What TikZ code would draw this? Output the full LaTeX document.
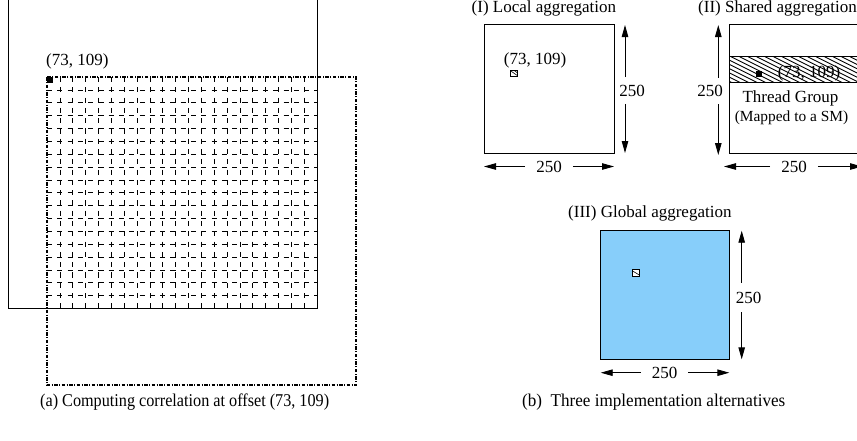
\documentclass[tikz,border=0pt]{standalone}
\usepackage{fontspec}
\setmainfont{Liberation Serif}
\usepackage{graphicx}
\usetikzlibrary{arrows.meta}

\definecolor{skyfill}{RGB}{135,206,250}

\begin{document}
\begin{tikzpicture}[x=1pt,y=-1pt,
  every node/.style={font=\fontsize{17}{20}\selectfont, inner sep=0pt},
  frame/.style={draw=black, line width=0.9pt},
  dimarrow/.style={line width=0.9pt, -{Triangle[length=12pt,width=6.5pt]}},
  dimlabel/.style={inner xsep=11pt, inner ysep=7.5pt},
  gridline/.style={line width=0.7pt, dash pattern=on 5.143pt off 5.143pt},
  dashdot/.style={line width=1.1pt, dash pattern=on 3.5pt off 1.5pt on 1pt off 1.5pt},
  hatch/.style={line width=0.6pt},
  caption/.style={anchor=west},
]
\useasboundingbox (0,0) rectangle (857,440);
\clip (0,0) rectangle (857,440);

% ---------- (a) correlation window over the image ----------
\draw[frame] (8,-2) rectangle (317,308);
% dashed grid of the overlapping region
\foreach \k in {1,...,20}
  \draw[gridline] ({47+\k*12.857},77) -- ({47+\k*12.857},308);
\foreach \j in {1,...,17}
  \draw[gridline] (47,{77+\j*12.857}) -- (317,{77+\j*12.857});
\draw[dashdot] (47,77) rectangle (356,385);
\fill (46.5,76.5) rectangle (53,83);
\node[anchor=west] (offA) at (46,61) {(73, 109)};

% ---------- (I) local aggregation ----------
\node[anchor=west] (titleI) at (471.5,8) {(I) Local aggregation};
\draw[frame] (484,24) rectangle (614,153);
\node (offI) at (535,60) {(73, 109)};
\begin{scope}
  \clip (510,70) rectangle (517,76);
  \draw[hatch] (508,69) -- (518,76);
  \draw[hatch] (512,69) -- (522,76);
\end{scope}
\draw[line width=0.8pt] (510,70) rectangle (517,76);
\node[dimlabel] (dimIv) at (632,90.5) {250};
\coordinate (dimIvt) at (625,25);
\coordinate (dimIvb) at (625,153);
\draw[dimarrow] (dimIvt |- dimIv.north) -- (dimIvt);
\draw[dimarrow] (dimIvb |- dimIv.south) -- (dimIvb);
\node[dimlabel] (dimIh) at (549,166.5) {250};
\coordinate (dimIhl) at (484,166.5);
\coordinate (dimIhr) at (614,166.5);
\draw[dimarrow] (dimIh.west) -- (dimIhl);
\draw[dimarrow] (dimIh.east) -- (dimIhr);

% ---------- (II) shared aggregation ----------
\node[anchor=west] (titleII) at (698,8) {(II) Shared aggregation};
\draw[frame] (729,24) rectangle (860,153);
\begin{scope}
  \clip (729,56.7) rectangle (860,82.7);
  \foreach \i in {0,...,22}
    \draw[line width=0.9pt] ({680+\i*8.5},56.7) -- ({680+\i*8.5+52},82.7);
\end{scope}
\draw[frame] (729,56.7) rectangle (860,82.7);
\fill (756,70.5) rectangle (762,76.5);
\node (offII) at (809,73) {(73, 109)};
\node (tg) at (790.5,98) {Thread Group};
\node[font=\fontsize{15.4}{18}\selectfont] (sm) at (791.5,118) {(Mapped to a SM)};
\node[dimlabel] (dimIIv) at (710,91) {250};
\coordinate (dimIIvt) at (718.3,25);
\coordinate (dimIIvb) at (718.3,155);
\draw[dimarrow] (dimIIvt |- dimIIv.north) -- (dimIIvt);
\draw[dimarrow] (dimIIvb |- dimIIv.south) -- (dimIIvb);
\node[dimlabel] (dimIIh) at (794,166.5) {250};
\coordinate (dimIIhl) at (724,166.5);
\coordinate (dimIIhr) at (862,166.5);
\draw[dimarrow] (dimIIh.west) -- (dimIIhl);
\draw[dimarrow] (dimIIh.east) -- (dimIIhr);

% ---------- (III) global aggregation ----------
\node[anchor=west] (titleIII) at (568,213.5) {(III) Global aggregation};
\draw[frame, fill=skyfill] (600.7,230.7) rectangle (729.3,359.3);
\fill[white] (632.7,269.5) rectangle (639.5,276);
\begin{scope}
  \clip (632.7,269.5) rectangle (639.5,276);
  \draw[hatch] (631,270) -- (641,276);
\end{scope}
\draw[line width=0.8pt] (632.7,269.5) rectangle (639.5,276);
\node[dimlabel, inner ysep=9pt] (dimIIIv) at (748.7,297.5) {250};
\coordinate (dimIIIvt) at (741.7,230.7);
\coordinate (dimIIIvb) at (741.7,359.3);
\draw[dimarrow] (dimIIIvt |- dimIIIv.north) -- (dimIIIvt);
\draw[dimarrow] (dimIIIvb |- dimIIIv.south) -- (dimIIIvb);
\node[dimlabel] (dimIIIh) at (664.5,372.7) {250};
\coordinate (dimIIIhl) at (600.7,372.7);
\coordinate (dimIIIhr) at (729.3,372.7);
\draw[dimarrow] (dimIIIh.west) -- (dimIIIhl);
\draw[dimarrow] (dimIIIh.east) -- (dimIIIhr);

% ---------- captions ----------
\node[caption] (capA) at (40,402)
  {\scalebox{0.9}[1]{\fontsize{18}{20}\selectfont (a) Computing correlation at offset (73, 109)}};
\node[caption] (capB) at (522,402)
  {\scalebox{0.95}[1]{\fontsize{18}{20}\selectfont (b)\ \ Three implementation alternatives}};
\end{tikzpicture}
\end{document}
